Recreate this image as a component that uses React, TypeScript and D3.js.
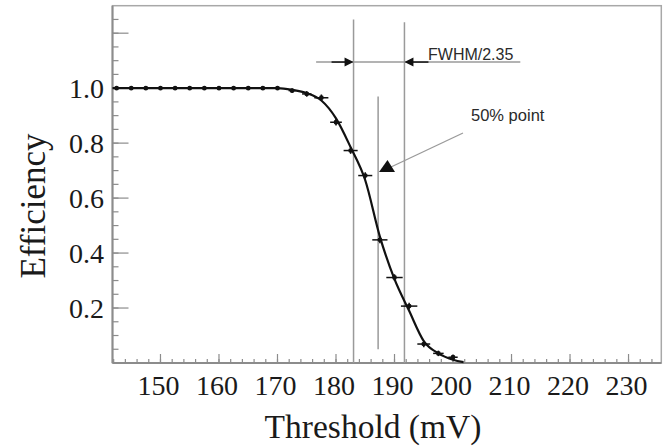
import React from "react";
import * as d3 from "d3";

// Measured data points (threshold in mV, efficiency)
const thresholds = [142.5, 145, 147.5, 150, 152.5, 155, 157.5, 160, 162.5, 165, 167.5, 170,
  172.5, 175, 177.5, 180, 182.5, 185, 187.5, 190, 192.5, 195, 197.5, 200];
const efficiency = [1.0, 1.0, 1.0, 1.0, 1.0, 1.0, 1.0, 1.0, 1.0, 1.0, 1.0, 1.0,
  0.991, 0.979, 0.965, 0.876, 0.773, 0.682, 0.448, 0.311, 0.207, 0.069, 0.035, 0.021];
const xErrors = [0.3, 0.3, 0.3, 0.3, 0.3, 0.3, 0.3, 0.3, 0.3, 0.3, 0.3, 0.3,
  0.6, 0.8, 1.2, 1.0, 1.2, 1.2, 1.3, 1.4, 1.4, 1.1, 0.9, 0.8];
const yErrors = [0.005, 0.005, 0.005, 0.005, 0.005, 0.005, 0.005, 0.005, 0.005, 0.005, 0.005, 0.005,
  0.008, 0.01, 0.012, 0.012, 0.012, 0.012, 0.012, 0.012, 0.012, 0.012, 0.01, 0.008];

// Fitted curve
const curveX = [141.8, 170, 172.5, 175, 177.5, 180, 182.5, 185, 187.5, 190, 192.5, 195, 197.5, 200, 201.8];
const curveY = [1.0, 1.0, 0.994, 0.982, 0.955, 0.89, 0.785, 0.665, 0.46, 0.305, 0.19, 0.08, 0.035, 0.012, 0.003];

// Axis ticks
const xMajorTicks = [150, 160, 170, 180, 190, 200, 210, 220, 230];
const xMinorTicks = d3.range(142, 236, 2);
const yMajorTicks = [0.2, 0.4, 0.6, 0.8, 1.0, 1.2];
const yLabelTicks = [0.2, 0.4, 0.6, 0.8, 1.0];
const yMinorTicks = d3.range(0.05, 1.3, 0.05);

// Annotations
const fwhmLines = [183.0, 191.7];
const fwhmTop = [1.25, 1.24];
const midLine = 187.2;
const midLineRange = [0.05, 0.97];
const arrowLevel = 1.095;
const arrowSpan = [176.6, 211.5];
const fwhmLabel = "FWHM/2.35";
const pointLabel = "50% point";

const W = 668, H = 446;

export default function App() {
  const x = d3.scaleLinear().domain([141.8, 235.6]).range([112.5, 661.3]);
  const y = d3.scaleLinear().domain([0, 1.3]).range([363, 5.7]);
  const fmt = d3.format(".1f");

  const curvePts: [number, number][] = curveX.map((v, i) => [v, curveY[i]]);
  const line = d3.line<[number, number]>()
    .x(d => x(d[0]))
    .y(d => y(d[1]))
    .curve(d3.curveMonotoneX);

  const x0 = x.range()[0], x1 = x.range()[1];
  const y0 = y.range()[0], y1 = y.range()[1];
  const gray = "#9a9a9a";
  const axisGray = "#8c8c8c";
  const serif = "'Liberation Serif', 'Times New Roman', serif";
  const sans = "'Liberation Sans', Arial, sans-serif";

  const ay = y(arrowLevel);
  const lx = x(fwhmLines[0]);
  const rx = x(fwhmLines[1]);

  return (
    <svg width={W} height={H} style={{ position: "absolute", left: 0, top: 0, background: "#fff" }}>
      {/* frame */}
      <rect x={x0} y={y1} width={x1 - x0} height={y0 - y1} fill="none" stroke="#a8a8a8" strokeWidth={1.5} />
      <line x1={x0} x2={x0} y1={y1} y2={y0} stroke={axisGray} strokeWidth={2} />
      <line x1={x0} x2={x1} y1={y0} y2={y0} stroke={axisGray} strokeWidth={2} />

      {/* x ticks */}
      {xMinorTicks.map(t => (
        <line key={"xm" + t} x1={x(t)} x2={x(t)} y1={y0} y2={y0 - 4} stroke={axisGray} strokeWidth={1.2} />
      ))}
      {xMajorTicks.map(t => (
        <line key={"xM" + t} x1={x(t)} x2={x(t)} y1={y0} y2={y0 - 9} stroke={axisGray} strokeWidth={1.2} />
      ))}
      {xMajorTicks.map(t => (
        <text key={"xl" + t} x={x(t) - 2} y={395} textAnchor="middle" fontFamily={serif} fontSize={28} fill="#1a1a1a">{t}</text>
      ))}

      {/* y ticks */}
      {yMinorTicks.map(t => (
        <line key={"ym" + t} x1={x0} x2={x0 + 6} y1={y(t)} y2={y(t)} stroke={axisGray} strokeWidth={1.2} />
      ))}
      {yMajorTicks.map(t => (
        <line key={"yM" + t} x1={x0} x2={x0 + 16} y1={y(t)} y2={y(t)} stroke={axisGray} strokeWidth={1.2} />
      ))}
      {yLabelTicks.map(t => (
        <text key={"yl" + t} x={104} y={y(t)} dy="0.35em" textAnchor="end" fontFamily={serif} fontSize={28} fill="#1a1a1a">{fmt(t)}</text>
      ))}

      {/* axis titles */}
      <text x={373} y={438} textAnchor="middle" fontFamily={serif} fontSize={33.5} fill="#1a1a1a">Threshold (mV)</text>
      <text transform={`translate(45,206) rotate(-90)`} textAnchor="middle" fontFamily={serif} fontSize={35} fill="#1a1a1a">Efficiency</text>

      {/* vertical guide lines */}
      {fwhmLines.map((v, i) => (
        <line key={"fw" + i} x1={x(v)} x2={x(v)} y1={y(fwhmTop[i])} y2={y0} stroke={gray} strokeWidth={1.5} />
      ))}
      <line x1={x(midLine)} x2={x(midLine)} y1={y(midLineRange[1])} y2={y(midLineRange[0])} stroke={gray} strokeWidth={1.5} />

      {/* FWHM arrow */}
      <line x1={x(arrowSpan[0])} x2={x(arrowSpan[1])} y1={ay} y2={ay} stroke={gray} strokeWidth={1.5} />
      <line x1={lx - 22} x2={lx - 8} y1={ay} y2={ay} stroke="#111" strokeWidth={1.5} />
      <path d={`M${lx},${ay} L${lx - 9},${ay - 4.5} L${lx - 9},${ay + 4.5} Z`} fill="#111" />
      <line x1={rx + 8} x2={rx + 24} y1={ay} y2={ay} stroke="#111" strokeWidth={1.5} />
      <path d={`M${rx},${ay} L${rx + 9},${ay - 4.5} L${rx + 9},${ay + 4.5} Z`} fill="#111" />
      <text x={428} y={60} fontFamily={sans} fontSize={16} fill="#2a2a2a">{fwhmLabel}</text>

      {/* 50% point annotation */}
      <line x1={463} y1={133} x2={391} y2={167} stroke={gray} strokeWidth={1.3} />
      <path d={`M379,172 L387.5,160 L395,172 Z`} fill="#111" />
      <text x={471} y={120.5} fontFamily={sans} fontSize={16.5} fill="#2a2a2a">{pointLabel}</text>

      {/* fitted curve */}
      <path d={line(curvePts) || ""} fill="none" stroke="#111" strokeWidth={2.2} />

      {/* data points with error bars */}
      {thresholds.map((t, i) => (
        <g key={"p" + i}>
          <line x1={x(t - xErrors[i])} x2={x(t + xErrors[i])} y1={y(efficiency[i])} y2={y(efficiency[i])} stroke="#111" strokeWidth={1.5} />
          <line x1={x(t)} x2={x(t)} y1={y(efficiency[i] + yErrors[i])} y2={y(efficiency[i] - yErrors[i])} stroke="#111" strokeWidth={1.5} />
          <circle cx={x(t)} cy={y(efficiency[i])} r={2.4} fill="#111" />
        </g>
      ))}
    </svg>
  );
}
